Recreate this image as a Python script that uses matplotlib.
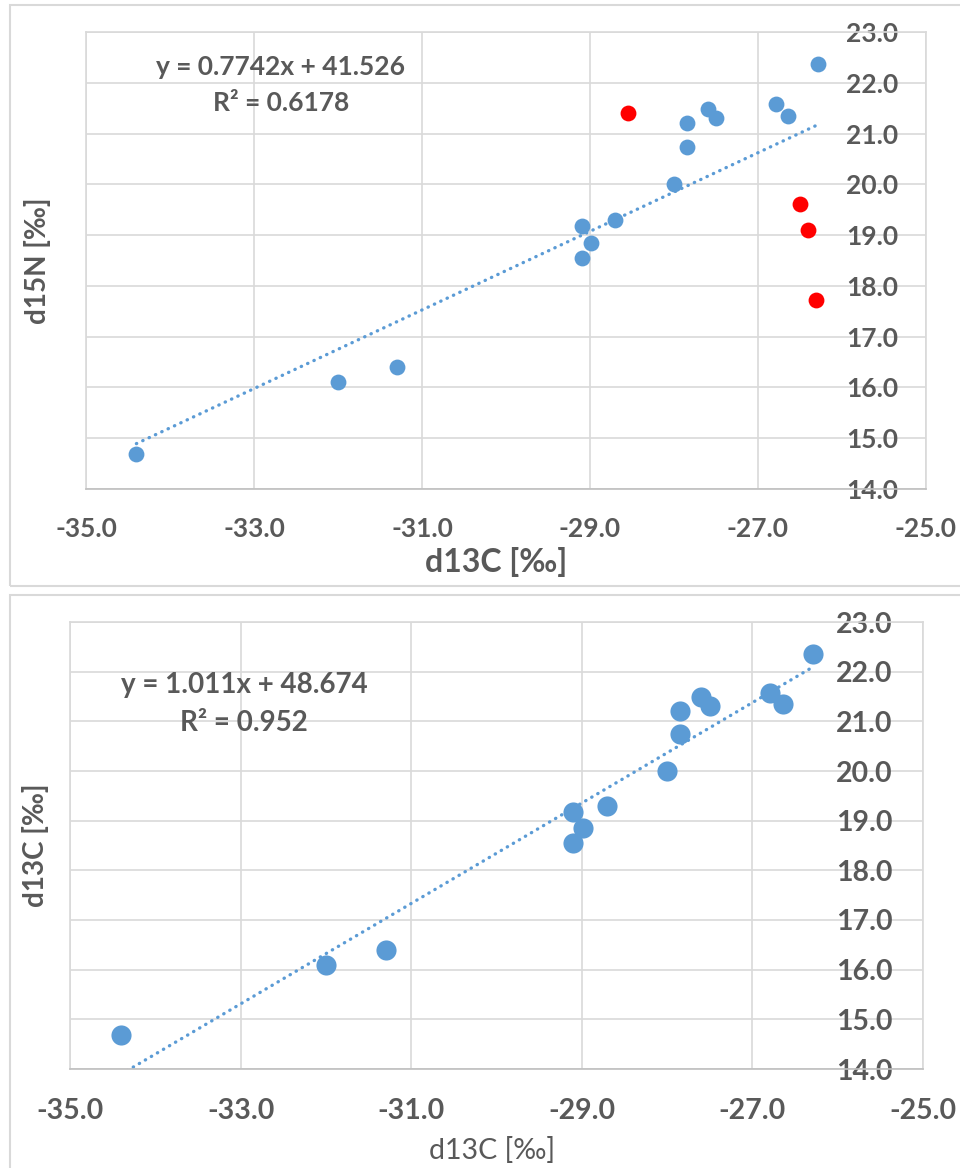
import matplotlib.pyplot as plt
from matplotlib.patches import Rectangle

plt.rcParams['font.family'] = ['Lato', 'DejaVu Sans']

# measured isotope values (blue = main series, red = outliers in the top chart)
d13c_blue = [-34.40, -32.00, -31.30, -29.10, -29.10, -28.99, -28.70, -28.00,
             -27.85, -27.85, -27.60, -27.50, -26.79, -26.64, -26.29]
d15n_blue = [14.69, 16.10, 16.40, 18.55, 19.18, 18.85, 19.29, 20.00,
             20.74, 21.20, 21.48, 21.30, 21.58, 21.35, 22.36]
d13c_red = [-28.55, -26.50, -26.40, -26.31]
d15n_red = [21.40, 19.61, 19.10, 17.72]

# trendlines as printed on the charts: slope, intercept, R²
fit_top = (0.7742, 41.526, "0.6178")
fit_bottom = (1.011, 48.674, "0.952")

x_ticks = [-35.0, -33.0, -31.0, -29.0, -27.0, -25.0]
y_ticks = [14.0, 15.0, 16.0, 17.0, 18.0, 19.0, 20.0, 21.0, 22.0, 23.0]

BLUE = "#5B9BD5"
RED = "#FF0000"
TXT = "#595959"
GRID = "#D9D9D9"

fig = plt.figure(figsize=(9.6, 11.68), dpi=100)

# chart frames like the Excel chart areas
fig.add_artist(Rectangle((10 / 960, 1 - 586 / 1168), 960 / 960, 581 / 1168,
                         transform=fig.transFigure, fill=False, ec=GRID, lw=1.5))
fig.add_artist(Rectangle((10 / 960, -0.05), 960 / 960, 1 - 595 / 1168 + 0.05,
                         transform=fig.transFigure, fill=False, ec=GRID, lw=1.5))


def style_axes(ax, tick_size, pad_x, pad_y):
    ax.set_xlim(-35, -25)
    ax.set_ylim(14, 23)
    ax.set_xticks(x_ticks)
    ax.set_yticks(y_ticks)
    ax.set_xticklabels([f"{v:.1f}" for v in x_ticks])
    ax.set_yticklabels([f"{v:.1f}" for v in y_ticks])
    ax.grid(True, color=GRID, lw=1.2)
    ax.set_axisbelow(True)
    for s in ax.spines.values():
        s.set_color(GRID)
        s.set_linewidth(1.2)
    ax.spines["bottom"].set_color("#BFBFBF")
    ax.yaxis.tick_right()
    ax.tick_params(length=0, colors=TXT, labelsize=tick_size)
    ax.tick_params(axis="x", pad=pad_x)
    ax.tick_params(axis="y", pad=pad_y)
    for lab in ax.get_yticklabels():
        lab.set_horizontalalignment("right")
        lab.set_fontweight("bold")
    for lab in ax.get_xticklabels():
        lab.set_fontweight("bold")
    ax.yaxis.set_label_position("left")


# ---- top chart: d15N vs d13C
ax1 = fig.add_axes([86 / 960, 1 - 489 / 1168, 840 / 960, 457 / 1168])
style_axes(ax1, 19, 20, -20)
ax1.scatter(d13c_blue, d15n_blue, s=130, color=BLUE, zorder=3, lw=0)
ax1.scatter(d13c_red, d15n_red, s=130, color=RED, zorder=3, lw=0)
all_x = d13c_blue + d13c_red
xs = [min(all_x), max(all_x)]
ax1.plot(xs, [fit_top[0] * v + fit_top[1] for v in xs], color=BLUE, lw=2.4,
         linestyle=(0, (0.1, 2.0)), dash_capstyle="round", zorder=2)
ax1.text(0.232, 0.923, f"y = {fit_top[0]}x + {fit_top[1]}", transform=ax1.transAxes,
         ha="center", va="center", fontsize=19, fontweight="bold", color=TXT)
ax1.text(0.232, 0.845, f"R² = {fit_top[2]}", transform=ax1.transAxes,
         ha="center", va="center", fontsize=19, fontweight="bold", color=TXT)
ax1.set_xlabel("d13C [‰]", fontsize=23, fontweight="bold", color=TXT, va="center")
ax1.xaxis.set_label_coords(0.488, -0.160)
ax1.set_ylabel("d15N [‰]", fontsize=20, fontweight="bold", color=TXT, va="center")
ax1.yaxis.set_label_coords(-0.058, 0.5)

# ---- bottom chart: blue series only
ax2 = fig.add_axes([70 / 960, 1 - 1069 / 1168, 853 / 960, 447 / 1168])
style_axes(ax2, 20.5, 21, -22)
ax2.scatter(d13c_blue, d15n_blue, s=210, color=BLUE, zorder=3, lw=0)
xs = [min(d13c_blue), max(d13c_blue)]
ax2.plot(xs, [fit_bottom[0] * v + fit_bottom[1] for v in xs], color=BLUE, lw=2.4,
         linestyle=(0, (0.1, 2.0)), dash_capstyle="round", zorder=2)
ax2.text(0.204, 0.859, f"y = {fit_bottom[0]}x + {fit_bottom[1]}", transform=ax2.transAxes,
         ha="center", va="center", fontsize=20, fontweight="bold", color=TXT)
ax2.text(0.204, 0.775, f"R² = {fit_bottom[2]}", transform=ax2.transAxes,
         ha="center", va="center", fontsize=20, fontweight="bold", color=TXT)
ax2.set_xlabel("d13C [‰]", fontsize=20.5, color=TXT, va="center")
ax2.xaxis.set_label_coords(0.495, -0.183)
ax2.set_ylabel("d13C [‰]", fontsize=20, fontweight="bold", color=TXT, va="center")
ax2.yaxis.set_label_coords(-0.040, 0.5)

fig.savefig("out.png", dpi=100)
